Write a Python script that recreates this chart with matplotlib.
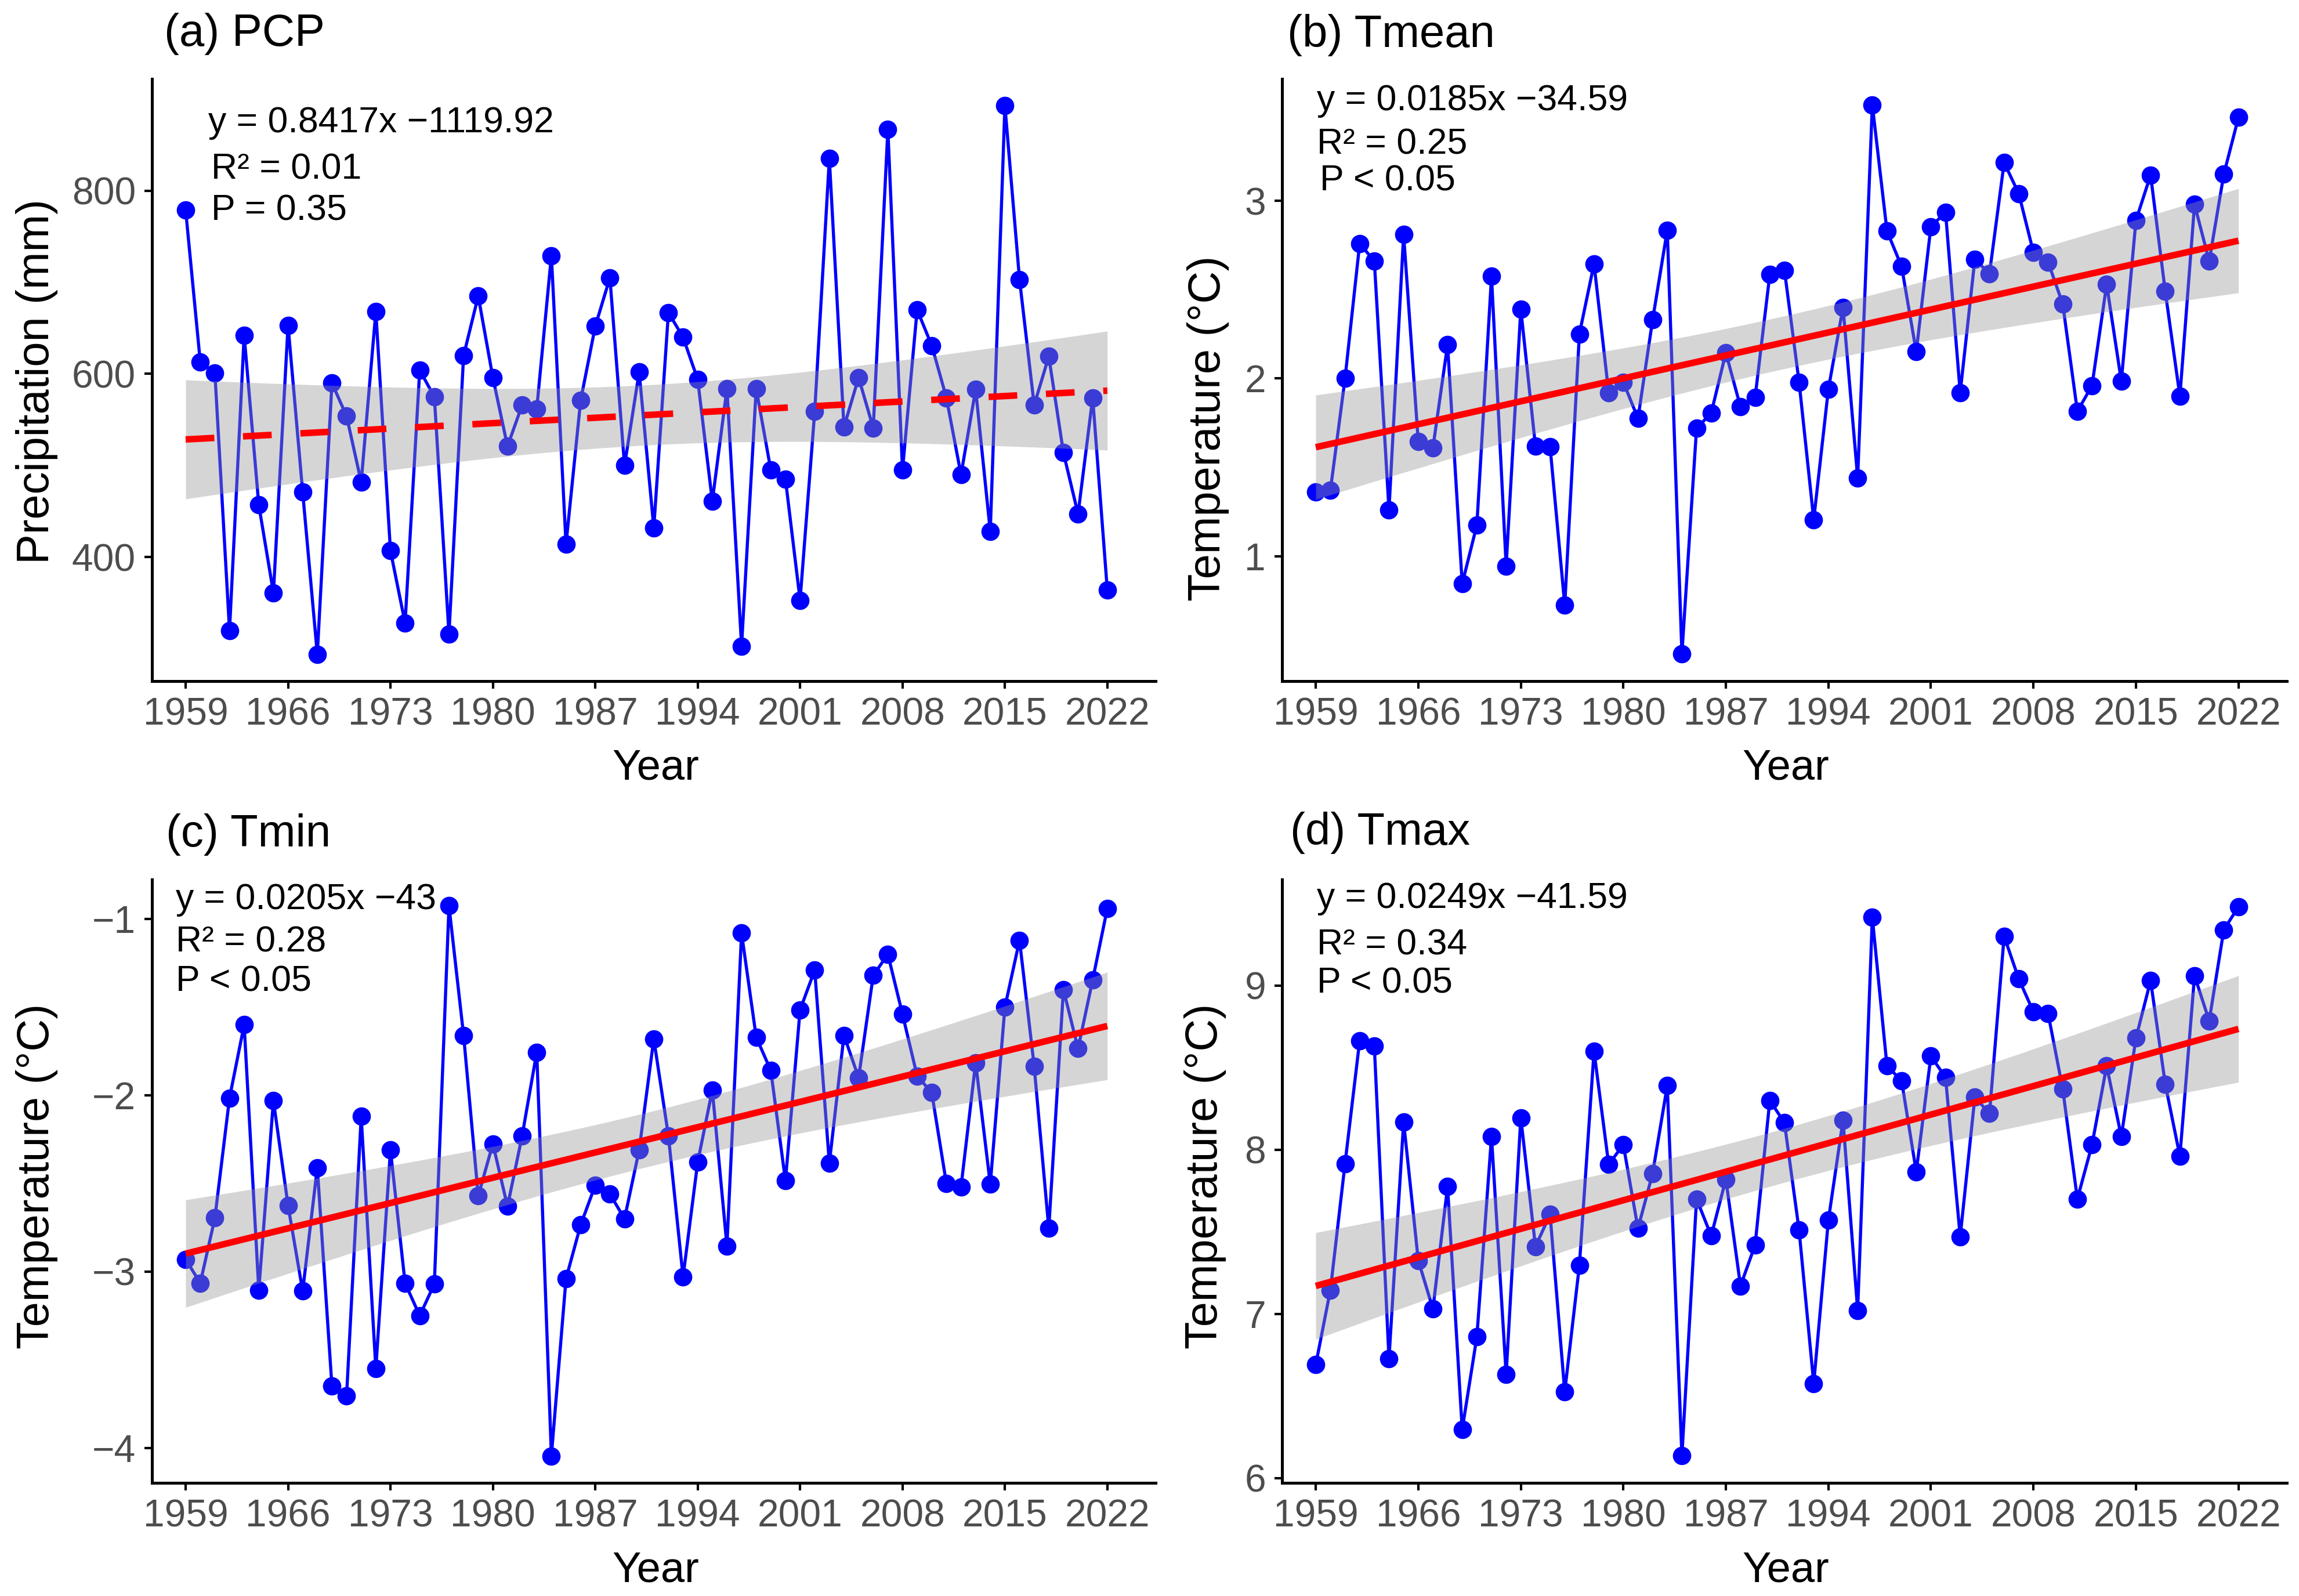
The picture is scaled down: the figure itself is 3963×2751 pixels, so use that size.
# Annual climate series 1959-2022, four panels with linear trend and 95% band

import numpy as np
import matplotlib
matplotlib.use('Agg')
import matplotlib.pyplot as plt

plt.rcParams['font.family'] = ['Liberation Sans', 'DejaVu Sans']

years = np.arange(1959, 2023)

pcp = [779, 613, 601, 320, 642, 457, 361, 653, 471, 294,
       590, 554, 482, 668, 407, 328, 604, 575, 316, 620,
       685, 596, 521, 566, 562, 729, 414, 571, 652, 705,
       500, 602, 432, 667, 640, 594, 461, 584, 303, 584,
       495, 485, 353, 559, 835, 542, 596, 541, 867, 495,
       670, 631, 574, 490, 583, 428, 893, 703, 566, 619,
       514, 447, 574, 364]

tmean = [1.36, 1.37, 2.00, 2.76, 2.66, 1.26, 2.81, 1.645, 1.61, 2.19,
         0.845, 1.175, 2.575, 0.945, 2.39, 1.62, 1.615, 0.725, 2.25, 2.645,
         1.92, 1.98, 1.775, 2.33, 2.835, 0.45, 1.72, 1.805, 2.145, 1.84,
         1.895, 2.585, 2.61, 1.98, 1.205, 1.94, 2.40, 1.44, 3.54, 2.83,
         2.63, 2.15, 2.855, 2.935, 1.92, 2.67, 2.59, 3.215, 3.04, 2.71,
         2.655, 2.42, 1.815, 1.96, 2.53, 1.985, 2.89, 3.145, 2.49, 1.90,
         2.98, 2.66, 3.15, 3.47]

tmin = [-2.93, -3.065, -2.695, -2.015, -1.60, -3.105, -2.03, -2.625, -3.11, -2.41,
        -3.65, -3.705, -2.12, -3.55, -2.31, -3.065, -3.25, -3.07, -0.925, -1.66,
        -2.57, -2.275, -2.63, -2.23, -1.755, -4.045, -3.04, -2.735, -2.51, -2.56,
        -2.70, -2.31, -1.68, -2.23, -3.03, -2.38, -1.97, -2.855, -1.08, -1.67,
        -1.86, -2.485, -1.515, -1.29, -2.385, -1.66, -1.90, -1.32, -1.20, -1.54,
        -1.89, -1.985, -2.50, -2.52, -1.815, -2.505, -1.50, -1.12, -1.835, -2.755,
        -1.40, -1.735, -1.345, -0.94]

tmax = [6.69, 7.145, 7.915, 8.665, 8.63, 6.725, 8.17, 7.325, 7.03, 7.775,
        6.295, 6.86, 8.08, 6.63, 8.195, 7.41, 7.605, 6.525, 7.295, 8.60,
        7.91, 8.03, 7.52, 7.855, 8.39, 6.135, 7.70, 7.475, 7.82, 7.17,
        7.42, 8.30, 8.165, 7.51, 6.575, 7.57, 8.18, 7.02, 9.415, 8.51,
        8.42, 7.865, 8.57, 8.44, 7.47, 8.32, 8.22, 9.30, 9.04, 8.84,
        8.83, 8.37, 7.70, 8.03, 8.51, 8.08, 8.68, 9.03, 8.40, 7.96,
        9.06, 8.785, 9.34, 9.48]

titles = ['(a) PCP', '(b) Tmean', '(c) Tmin', '(d) Tmax']
ylabels = ['Precipitation (mm)', 'Temperature (°C)', 'Temperature (°C)', 'Temperature (°C)']
series = [pcp, tmean, tmin, tmax]
yticks = [[400, 600, 800], [1, 2, 3], [-4, -3, -2, -1], [6, 7, 8, 9]]
ylims = [(264.7, 922), (0.297, 3.686), (-4.198, -0.776), (5.97, 9.646)]
xticks = [1959, 1966, 1973, 1980, 1987, 1994, 2001, 2008, 2015, 2022]
stats = [['y = 0.8417x \u22121119.92', 'R² = 0.01', 'P = 0.35'],
         ['y = 0.0185x \u221234.59', 'R² = 0.25', 'P < 0.05'],
         ['y = 0.0205x \u221243', 'R² = 0.28', 'P < 0.05'],
         ['y = 0.0249x \u221241.59', 'R² = 0.34', 'P < 0.05']]

W, H = 3963, 2751
DPI = 300
S = W / 1568  # positions below were measured on a 1568 wide view

# axes boxes: left, right, top, bottom in full size pixels
boxes = [(262, 1992, 136, 1174), (2210, 3942, 136, 1174),
         (262, 1992, 1516, 2556), (2210, 3942, 1516, 2556)]
titlePos = [(112, 23), (878, 24), (113, 569), (880, 568)]
statPos = [[(142, 83.5), (144, 115.5), (144, 143.5)],
           [(898, 68.5), (898, 98.5), (900, 123.5)],
           [(120, 613.5), (120, 642.5), (120, 669.5)],
           [(898, 612.5), (898, 644.5), (898, 670.5)]]
ylabelPos = [(25, 260), (824, 292), (25, 802), (822, 802)]
xlabelPos = [(447, 524), (1218, 524), (447, 1071), (1218, 1071)]


def figText(fig, pos, s, **kw):
    return fig.text(pos[0] * S / W, 1 - pos[1] * S / H, s, **kw)


fig = plt.figure(figsize=(W / DPI, H / DPI), dpi=DPI, facecolor='white')

for i in range(4):
    l, r, t, b = boxes[i]
    ax = fig.add_axes([l / W, 1 - b / H, (r - l) / W, (b - t) / H])
    y = np.array(series[i], dtype=float)

    ax.plot(years, y, color='#0000FF', lw=1.3, marker='o', ms=7.6, mew=0, zorder=2)

    # least squares line with its 95% band, as geom_smooth does it
    k, c = np.polyfit(years, y, 1)
    fit = k * years + c
    resid = np.sqrt(np.sum((y - fit) ** 2) / (len(y) - 2))
    dx = years - years.mean()
    se = resid * np.sqrt(1 / len(y) + dx ** 2 / np.sum(dx ** 2))
    ax.fill_between(years, fit - 2.0 * se, fit + 2.0 * se, color='#969696', alpha=0.4, lw=0, zorder=3)
    if i == 0:
        ax.plot(years, fit, color='#FF0000', lw=2.7, dashes=(4.4, 4.4), dash_capstyle='butt', zorder=4)
    else:
        ax.plot(years, fit, color='#FF0000', lw=2.7, solid_capstyle='butt', zorder=4)

    ax.set_xlim(1956.7, 2025.3)
    ax.set_ylim(*ylims[i])
    ax.set_xticks(xticks)
    ax.set_yticks(yticks[i])
    ax.spines['top'].set_visible(False)
    ax.spines['right'].set_visible(False)
    ax.spines['left'].set_linewidth(1.2)
    ax.spines['bottom'].set_linewidth(1.2)
    ax.tick_params(axis='both', length=3.2, width=1.0, labelsize=15.8, labelcolor='#4D4D4D', pad=3.5)

    figText(fig, titlePos[i], titles[i], fontsize=18.7, ha='left', va='center')
    figText(fig, ylabelPos[i], ylabels[i], fontsize=18.6, rotation=90, ha='center', va='center')
    figText(fig, xlabelPos[i], 'Year', fontsize=17.8, ha='center', va='center')
    for pos, s in zip(statPos[i], stats[i]):
        figText(fig, pos, s, fontsize=15.0, ha='left', va='center')

fig.savefig('out.png', dpi=DPI)
